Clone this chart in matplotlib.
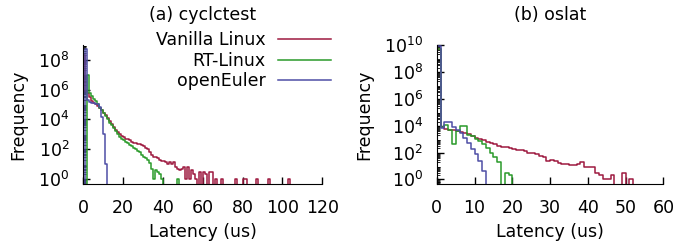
import matplotlib.pyplot as plt
import numpy as np
from matplotlib.ticker import LogLocator, FixedLocator, FuncFormatter

# histogram counts, 1 us bins starting at 0 us
# (a) cyclictest
cyc_vanilla = [2e8, 8e5, 6e5, 3e5, 1.8e5, 1.3e5, 1e5, 8e4, 5.5e4, 4e4,
               2.8e4, 2e4, 1.3e4, 8e3, 5e3, 3.2e3, 2e3, 1.4e3, 1e3, 800,
               630, 500, 450, 400, 320, 280, 250, 220, 220, 200,
               160, 125, 100, 63, 40, 32, 32, 25, 20, 16,
               16, 13, 10, 13, 10, 13, 6, 5, 4, 5,
               6, 1, 6, 1, 4, 2, 1, 0]
cyc_vanilla_tail_lat = [58, 60, 61, 63, 64, 66, 69, 76, 80, 81, 87, 93, 103]
cyc_vanilla_tail_cnt = [3, 3, 2, 3, 3, 1, 1, 1, 1, 1, 1, 1, 1]
cyc_rt = [0, 0, 1e7, 6e5, 4e5, 2.5e5, 1.6e5, 1e5, 6e4, 4e4,
          2.5e4, 1.6e4, 1e4, 6e3, 4e3, 2.5e3, 1.6e3, 1e3, 700, 500,
          400, 300, 250, 200, 160, 125, 100, 80, 63, 40,
          32, 25, 20, 12, 5, 1, 4, 3, 2, 1,
          0, 0, 0, 0, 0, 0, 0, 1, 0]
cyc_euler = [0, 5e8, 2e5, 1.5e5, 1.3e5, 1.2e5, 1.1e5, 1e5, 7e4, 1.5e4,
             1e3, 10, 0]

# (b) oslat
osl_vanilla = [5e9, 8e3, 6e3, 5e3, 4.5e3, 4e3, 3.5e3, 3e3, 2.2e3, 1.6e3,
               1.2e3, 1e3, 800, 600, 500, 400, 300, 280, 250, 220,
               180, 160, 150, 120, 100, 90, 80, 60, 45, 23,
               30, 23, 16, 14, 13, 11, 12, 13, 20, 8,
               8, 8, 3, 2, 1, 1, 2, 0, 0, 3,
               0, 1, 0]
osl_rt = [5e9, 8e3, 1.2e4, 5e3, 400, 4e3, 9e3, 1e4, 2e3, 1.6e3,
          1.1e3, 700, 400, 200, 100, 45, 20, 0, 3, 2, 0]
osl_euler = [9e9, 7e3, 1.8e4, 1.8e4, 8e3, 5e3, 3e3, 1.3e3, 550, 190,
             80, 23, 4, 0]

labels = ['Vanilla Linux', 'RT-Linux', 'openEuler']
colors = ['#9e1a40', '#2a9a2a', '#4e4ea6']


def full(counts, n, tail_lat=(), tail_cnt=()):
    c = np.zeros(n)
    c[:len(counts)] = counts
    for lat, cnt in zip(tail_lat, tail_cnt):
        c[lat] = cnt
    return c


def steps(ax, counts, color, label):
    x = np.arange(len(counts) + 1)
    y = np.concatenate([[0], counts])
    ax.plot(x, y, drawstyle='steps-pre', color=color, lw=1.1, label=label)


plt.rcParams['font.family'] = 'DejaVu Sans'
plt.rcParams['font.size'] = 12.5

fig = plt.figure(figsize=(6.99, 2.44), dpi=100)
ax1 = fig.add_axes([0.119, 0.246, 0.342, 0.570])
ax2 = fig.add_axes([0.625, 0.246, 0.324, 0.570])

cyc = [full(cyc_vanilla, 121, cyc_vanilla_tail_lat, cyc_vanilla_tail_cnt),
       full(cyc_rt, 121), full(cyc_euler, 121)]
osl = [full(osl_vanilla, 61), full(osl_rt, 61), full(osl_euler, 61)]

for s, c, l in zip(cyc, colors, labels):
    steps(ax1, s, c, l)
for s, c, l in zip(osl, colors, labels):
    steps(ax2, s, c, l)

fmt = FuncFormatter(lambda v, p: r'$10^{%d}$' % round(np.log10(v)))
for ax, top, xmax, xstep, title in [(ax1, 1e9, 120, 20, '(a) cyclctest'),
                                     (ax2, 1e10, 60, 10, '(b) oslat')]:
    ax.set_yscale('log')
    ax.set_ylim(0.46, top)
    ax.set_xlim(0, xmax)
    ax.set_xticks(np.arange(0, xmax + 1, xstep))
    ax.yaxis.set_major_locator(FixedLocator([10.0 ** k for k in range(0, 11, 2)]))
    ax.yaxis.set_major_formatter(fmt)
    ax.yaxis.set_minor_locator(LogLocator(base=10, subs=np.arange(2, 10), numticks=30))
    ax.yaxis.set_minor_formatter(FuncFormatter(lambda v, p: ''))
    ax.spines['top'].set_visible(False)
    ax.spines['right'].set_visible(False)
    ax.tick_params(direction='in', length=5, width=1)
    ax.tick_params(axis='x', pad=11)
    ax.tick_params(axis='y', pad=10)
    ax.tick_params(which='minor', direction='in', length=2, width=0.6)
    ax.set_xlabel('Latency (us)', labelpad=4)
    ax.set_ylabel('Frequency', labelpad=8)
    ax.set_title(title, pad=18, fontsize=12.5)

ax1.legend(loc='upper right', bbox_to_anchor=(1.035, 1.10), frameon=False,
           markerfirst=False, handlelength=3.05, handletextpad=0.7,
           labelspacing=0.15, borderaxespad=0, borderpad=0)

fig.savefig('out.png', dpi=100)
